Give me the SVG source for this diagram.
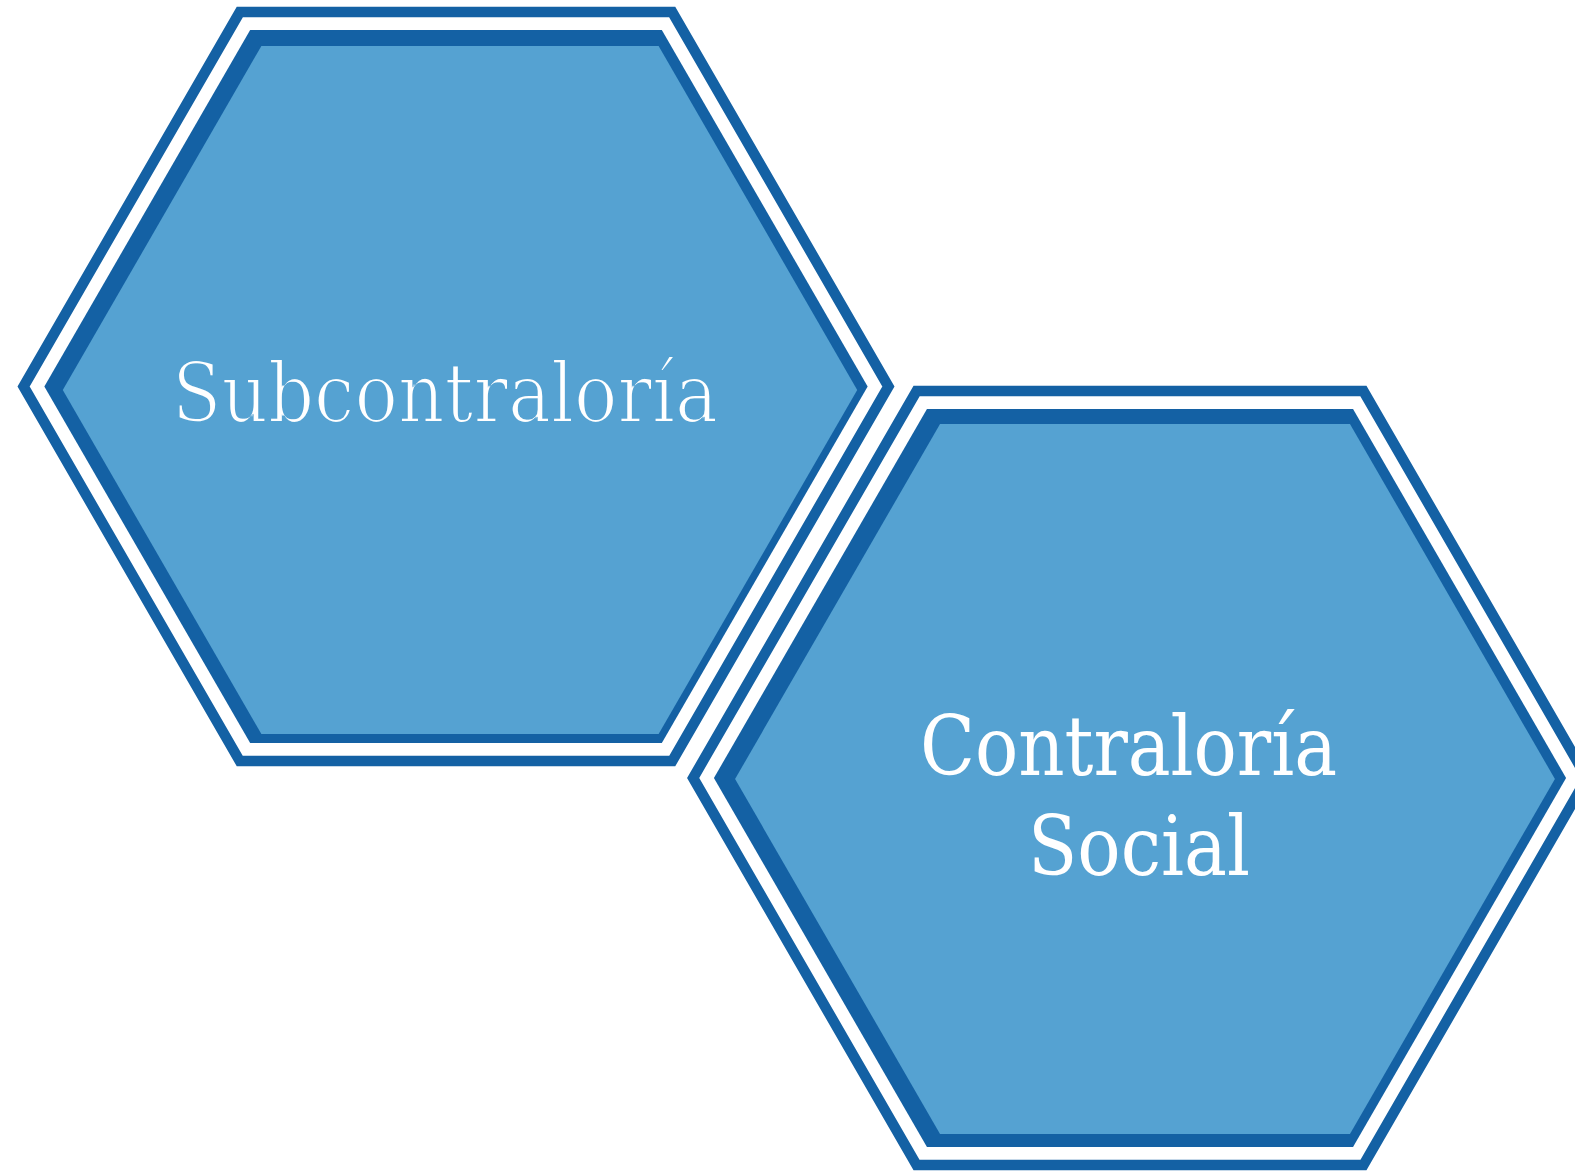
<svg xmlns="http://www.w3.org/2000/svg" width="1575" height="1171" viewBox="0 0 1575 1171">
<style>
.ring{fill:none;stroke:#1461a4;stroke-width:10.5;stroke-linejoin:miter}
.band{fill:#1461a4}
.face{fill:#55a2d2}
.lbl{font-family:"DejaVu Serif Condensed","DejaVu Serif","Liberation Serif",serif;font-size:82px;fill:#ffffff}
</style>
<defs>
<filter id="thin" x="-5%" y="-20%" width="110%" height="140%">
<feMorphology operator="erode" radius="1.3"/>
</filter>
</defs>
<rect width="1575" height="1171" fill="#ffffff"/>
<g id="connectors"></g>
<g id="node-subcontraloria">
<polygon class="ring" points="239.78,12 672.22,12 888.44,386.5 672.22,761 239.78,761 23.56,386.5"/>
<polygon class="band" points="250.17,30 661.83,30 867.65,386.5 661.83,743 250.17,743 44.35,386.5"/>
<polygon class="face" points="261.39,46 658.61,46 857.22,390 658.61,734 261.39,734 62.78,390"/>
<text class="lbl" filter="url(#thin)" x="172" y="422" textLength="546" lengthAdjust="spacingAndGlyphs">Subcontraloría</text>
</g>
<g id="node-contraloria-social">
<polygon class="ring" points="916.57,391 1363.43,391 1586.87,778 1363.43,1165 916.57,1165 693.13,778"/>
<polygon class="band" points="926.96,409 1353.04,409 1566.08,778 1353.04,1147 926.96,1147 713.92,778"/>
<polygon class="face" points="940.04,424 1349.96,424 1554.92,779 1349.96,1134 940.04,1134 735.08,779"/>
<text class="lbl" x="920" y="775" textLength="417" lengthAdjust="spacingAndGlyphs">Contraloría</text>
<text class="lbl" x="1028" y="875" textLength="222" lengthAdjust="spacingAndGlyphs">Social</text>
</g>
</svg>
